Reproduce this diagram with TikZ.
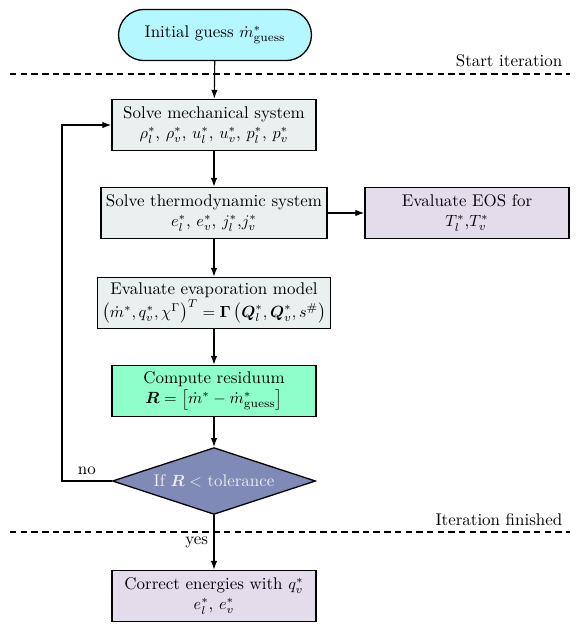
\documentclass[tikz,border=0pt]{standalone}
\usepackage{amsmath,amssymb}
\usepackage{tikz}
\usetikzlibrary{shapes.geometric,shapes.misc,arrows.meta}
\definecolor{startcol}{RGB}{180,247,255}
\definecolor{solvecol}{RGB}{234,240,240}
\definecolor{eoscol}{RGB}{227,220,234}
\definecolor{rescol}{RGB}{142,255,200}
\definecolor{decidecol}{RGB}{127,138,182}
\newcommand{\chartfont}{\fontsize{10.45pt}{12.4pt}\selectfont}
\tikzset{
  every node/.style={font=\chartfont},
  proc/.style={draw,line width=0.8pt,rectangle,fill=solvecol,align=center,minimum width=4.43cm,minimum height=1.11cm,inner sep=3pt},
  startbox/.style={draw,line width=0.8pt,rounded rectangle,fill=startcol,minimum width=4.42cm,minimum height=1.11cm},
  decide/.style={draw,line width=0.8pt,diamond,fill=decidecol,text=white!93!black,aspect=3,inner sep=0pt,minimum width=4.41cm,minimum height=1.45cm},
  flow/.style={line width=0.7pt,-{Latex[length=5.5pt,width=4pt]}},
  sepline/.style={line width=0.7pt,dash pattern=on 4pt off 2.6pt},
  lab/.style={font=\chartfont},
}

\begin{document}
\begin{tikzpicture}[x=0.0217cm,y=-0.0217cm]
  \useasboundingbox (0,0) rectangle (581,632);
  % flow chart
  \node[startbox] (guess) at (215,35) {Initial guess $\dot{m}^*_{\text{guess}}$};
  \node[proc] (mech) at (214,125) {Solve mechanical system\\$\rho^*_l$, $\rho^*_v$, $u^*_l$, $u^*_v$, $p^*_l$, $p^*_v$};
  \node[proc] (thermo) at (214,213) {Solve thermodynamic system\\$e^*_l$, $e^*_v$, $j^*_l$,$j^*_v$};
  \node[proc,fill=eoscol] (eos) at (467,213) {Evaluate EOS for\\$T^*_l$,$T^*_v$};
  \node[proc] (evap) at (214,303) {Evaluate evaporation model\\$\left(\dot{m}^*, q^*_v, \chi^\Gamma\right)^T = \boldsymbol{\Gamma}\left(\boldsymbol{Q}^*_l, \boldsymbol{Q}^*_v, s^\#\right)$};
  \node[proc,fill=rescol] (res) at (214,391) {Compute residuum\\$\boldsymbol{R} = \left[\dot{m}^* - \dot{m}^*_{\text{guess}}\right]$};
  \node[decide] (check) at (214,481) {If $\boldsymbol{R} <$ tolerance};
  \node[proc,fill=eoscol] (corr) at (214,596) {Correct energies with $q^*_v$\\$e^*_l$, $e^*_v$};
  % iteration limits
  \draw[sepline] (10,74) -- (570,74);
  \node[lab,anchor=base east] (startlab) at (568,67) {Start iteration};
  \draw[sepline] (10,532) -- (570,532);
  \node[lab,anchor=base east] (endlab) at (568,525) {Iteration finished};
  % connectors
  \draw[flow] (guess) -- (mech);
  \draw[flow] (mech) -- (thermo);
  \draw[flow] (thermo) -- (eos);
  \draw[flow] (thermo) -- (evap);
  \draw[flow] (evap) -- (res);
  \draw[flow] (res) -- (check);
  \draw[flow] (check) -- node[lab,pos=0.5,left] (yes) {yes} (corr);
  \coordinate (loopbot) at (62,481);
  \coordinate (looptop) at (62,125);
  \draw[flow] (check.west) -- node[lab,pos=0.5,above] (no) {no} (loopbot) -- (looptop) -- (mech.west);
\end{tikzpicture}
\end{document}
